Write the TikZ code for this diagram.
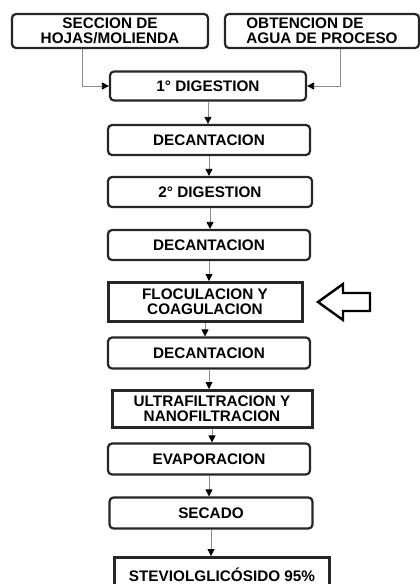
\documentclass[tikz,border=0pt]{standalone}
\usepackage{fontspec}
\setmainfont{Liberation Sans}
\usetikzlibrary{arrows.meta, positioning}

\begin{document}
\begin{tikzpicture}[x=1pt, y=-1pt,
  paso/.style={draw=black!85, rounded corners=4pt, line width=2.2pt, align=center,
               font=\fontsize{15.3}{15}\selectfont\bfseries, inner sep=2pt},
  clave/.style={paso, rounded corners=0pt, line width=3pt},
  arr/.style={-{Triangle[length=7pt, width=7pt, color=black]}, draw=black!45, line width=0.8pt}
]
\useasboundingbox (0,0) rectangle (420,584);
\node[paso, minimum width=196pt, minimum height=34pt] (hojas) at (110,31) {SECCION DE\\HOJAS/MOLIENDA};
\node[paso, minimum width=194pt, minimum height=34pt, align=left] (agua) at (322,31) {OBTENCION DE\\AGUA DE PROCESO};
\node[paso, minimum width=196pt, minimum height=29pt] (dig1) at (208,86) {1° DIGESTION};
\node[paso, minimum width=202pt, minimum height=30pt] (dec1) at (209,140) {DECANTACION};
\node[paso, minimum width=204pt, minimum height=30pt] (dig2) at (210,192) {2° DIGESTION};
\node[paso, minimum width=202pt, minimum height=30pt] (dec2) at (209,245) {DECANTACION};
\node[clave, minimum width=194pt, minimum height=39pt] (floc) at (205,302) {FLOCULACION Y\\COAGULACION};
\node[paso, minimum width=202pt, minimum height=31pt] (dec3) at (209,353) {DECANTACION};
\node[clave, minimum width=200pt, minimum height=37pt] (ultra) at (212,409) {ULTRAFILTRACION Y\\NANOFILTRACION};
\node[paso, minimum width=202pt, minimum height=31pt] (evap) at (209,459) {EVAPORACION};
\node[paso, minimum width=203pt, minimum height=31pt] (seca) at (211,513) {SECADO};
\node[clave, minimum width=215pt, minimum height=34pt, anchor=north] (stev) at (222,556) {STEVIOLGLICÓSIDO 95\%};

\draw[arr] ([xshift=-28pt]hojas.south) |- (dig1.west);
\draw[arr] ([xshift=18pt]agua.south) |- (dig1.east);
\draw[arr] (dig1.south) -- (dig1.south |- dec1.north);
\draw[arr] (dec1.south) -- (dec1.south |- dig2.north);
\draw[arr] (dig2.south) -- (dig2.south |- dec2.north);
\draw[arr] (dec2.south) -- (dec2.south |- floc.north);
\draw[arr] (floc.south) -- (floc.south |- dec3.north);
\draw[arr] (dec3.south) -- (dec3.south |- ultra.north);
\draw[arr] (ultra.south) -- (ultra.south |- evap.north);
\draw[arr] (evap.south) -- (evap.south |- seca.north);
\draw[arr] (seca.south) -- (seca.south |- stev.north);

\draw[line width=2.4pt, line join=miter] (318,302) -- (343,284) -- (343,293) -- (370,293)
  -- (370,311) -- (343,311) -- (343,320) -- cycle;
\end{tikzpicture}
\end{document}
